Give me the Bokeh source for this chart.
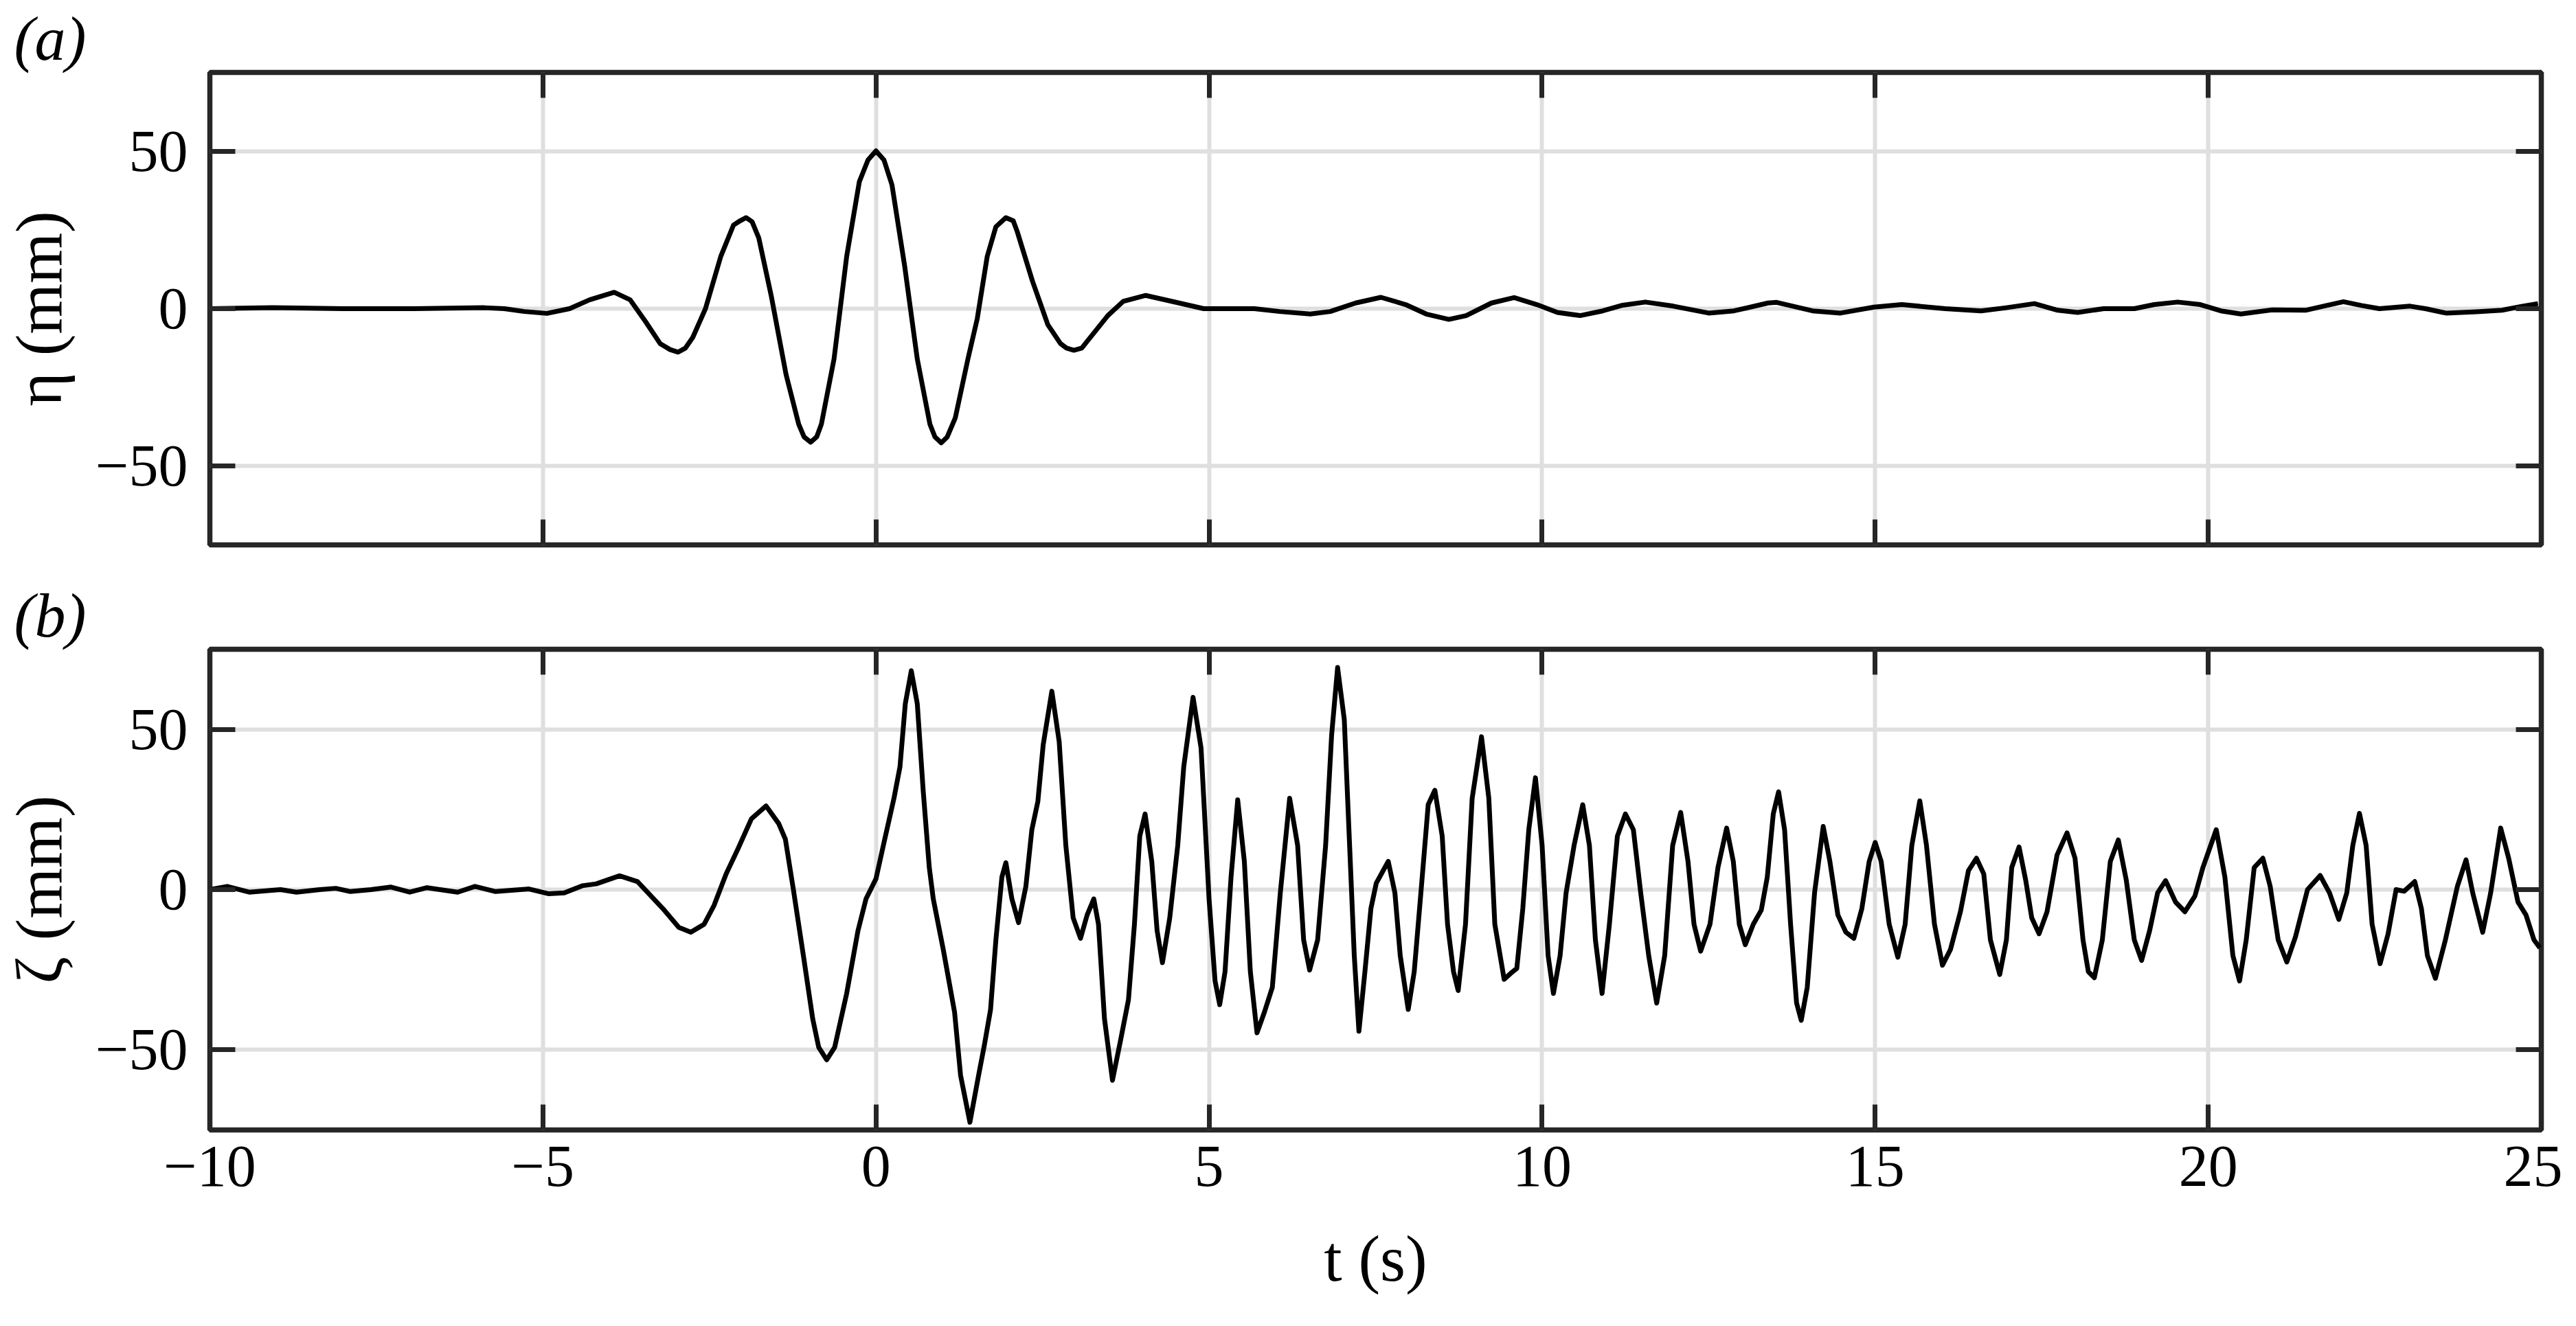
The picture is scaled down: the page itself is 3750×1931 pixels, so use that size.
from bokeh.plotting import figure
from bokeh.models import LinearAxis, FixedTicker, Range1d, Grid
from bokeh.layouts import column
from bokeh.embed import file_html
from bokeh.resources import INLINE

# ---------------- data ----------------
x_ticks = [-10, -5, 0, 5, 10, 15, 20, 25]
y_ticks = [-50, 0, 50]
x_tick_labels = {-10: "\u221210", -5: "\u22125", 0: "0", 5: "5", 10: "10", 15: "15", 20: "20", 25: "25"}
y_tick_labels = {-50: "\u221250", 0: "0", 50: "50"}

# panel (a): incident wave elevation eta (mm) vs t (s)
t_eta = [-10.0, -9.06, -8.0, -6.94, -5.88, -5.58, -5.28, -4.94, -4.60, -4.30, -3.93, -3.69,
         -3.46, -3.24, -3.09, -2.97, -2.86, -2.75, -2.56, -2.33, -2.14, -2.04, -1.95, -1.86,
         -1.76, -1.57, -1.35, -1.16, -1.08, -0.98, -0.89, -0.82, -0.63, -0.44, -0.25, -0.12,
         0.0, 0.12, 0.24, 0.43, 0.62, 0.81, 0.885, 0.98, 1.07, 1.19, 1.38, 1.52, 1.67, 1.80,
         1.95, 2.06, 2.12, 2.35, 2.58, 2.77, 2.86, 2.97, 3.09, 3.18, 3.48, 3.71, 4.05, 4.55,
         4.92, 5.68, 6.06, 6.52, 6.82, 7.20, 7.58, 7.95, 8.26, 8.60, 8.86, 9.24, 9.58, 9.92,
         10.23, 10.57, 10.91, 11.21, 11.55, 11.97, 12.50, 12.88, 13.39, 13.52, 14.06, 14.48,
         14.98, 15.40, 16.05, 16.59, 16.97, 17.39, 17.74, 18.04, 18.43, 18.89, 19.19, 19.54,
         19.88, 20.19, 20.49, 20.96, 21.46, 21.73, 22.03, 22.30, 22.57, 23.03, 23.26, 23.57,
         24.03, 24.41, 24.72, 24.95]
eta = [0.0, 0.3, 0.0, 0.0, 0.3, 0.0, -0.9, -1.5, 0.0, 2.8, 5.2, 2.8,
       -4.1, -11.1, -13.0, -13.8, -12.5, -9.1, 0.0, 16.6, 26.5, 27.9, 28.9, 27.6,
       22.5, 3.8, -20.9, -36.7, -40.7, -42.4, -40.7, -36.7, -16.0, 16.6, 40.3, 47.2,
       50.1, 47.2, 39.3, 13.6, -16.0, -36.7, -40.7, -42.6, -40.7, -34.7, -16.0, -3.2, 16.6, 26.0,
       28.9, 27.9, 24.5, 8.7, -5.1, -11.1, -12.5, -13.2, -12.5, -10.1, -2.2, 2.3, 4.2, 1.8,
       0.0, 0.0, -0.9, -1.7, -0.9, 1.8, 3.6, 1.3, -1.7, -3.4, -2.2, 1.8, 3.5, 1.3,
       -1.2, -2.2, -0.7, 1.1, 2.1, 0.8, -1.4, -0.7, 1.8, 2.0, -0.7, -1.4,
       0.5, 1.3, 0.0, -0.7, 0.3, 1.6, -0.5, -1.2, 0.0, 0.0, 1.3, 2.1,
       1.3, -0.7, -1.7, -0.4, -0.5, 0.8, 2.2, 1.0, 0.0, 0.8, 0.0, -1.4,
       -1.0, -0.5, 0.8, 1.6]

# panel (b): zeta (mm) vs t (s)
t_zeta = [-10.0, -9.74, -9.41, -8.94, -8.70, -8.35, -8.11, -7.89, -7.58, -7.28, -7.00, -6.74,
          -6.28, -6.02, -5.71, -5.21, -4.91, -4.68, -4.41, -4.20, -3.85, -3.58, -3.20, -2.96,
          -2.78, -2.58, -2.43, -2.25, -2.07, -1.87, -1.65, -1.46, -1.36, -1.24, -1.09, -0.95,
          -0.86, -0.74, -0.62, -0.44, -0.27, -0.15, 0.0, 0.12, 0.27, 0.36, 0.44, 0.53,
          0.62, 0.71, 0.80, 0.86, 1.01, 1.18, 1.27, 1.41, 1.54, 1.63, 1.72, 1.80,
          1.89, 1.95, 2.04, 2.14, 2.25, 2.34, 2.43, 2.51, 2.64, 2.75, 2.85, 2.96,
          3.07, 3.17, 3.27, 3.34, 3.43, 3.55, 3.67, 3.79, 3.88, 3.96, 4.04, 4.14,
          4.22, 4.30, 4.41, 4.53, 4.62, 4.76, 4.88, 5.00, 5.09, 5.16, 5.24, 5.33,
          5.43, 5.53, 5.62, 5.72, 5.83, 5.95, 6.07, 6.21, 6.33, 6.42, 6.51, 6.63,
          6.75, 6.84, 6.93, 7.03, 7.10, 7.18, 7.25, 7.34, 7.43, 7.51, 7.60, 7.69,
          7.79, 7.87, 7.99, 8.08, 8.20, 8.29, 8.39, 8.50, 8.58, 8.67, 8.74, 8.85,
          8.95, 9.09, 9.20, 9.29, 9.43, 9.53, 9.62, 9.71, 9.80, 9.90, 10.00, 10.09,
          10.17, 10.27, 10.36, 10.48, 10.61, 10.71, 10.80, 10.90, 11.01, 11.13, 11.25, 11.37,
          11.48, 11.60, 11.72, 11.84, 11.96, 12.08, 12.19, 12.28, 12.38, 12.52, 12.64, 12.77,
          12.87, 12.96, 13.05, 13.17, 13.29, 13.38, 13.47, 13.55, 13.64, 13.73, 13.82, 13.89,
          13.98, 14.09, 14.22, 14.32, 14.44, 14.56, 14.68, 14.80, 14.91, 15.00, 15.09, 15.21,
          15.34, 15.45, 15.55, 15.67, 15.77, 15.89, 16.01, 16.13, 16.28, 16.40, 16.52, 16.63,
          16.73, 16.87, 16.97, 17.05, 17.16, 17.26, 17.35, 17.46, 17.58, 17.73, 17.88, 18.00,
          18.12, 18.20, 18.29, 18.41, 18.53, 18.65, 18.77, 18.89, 19.00, 19.12, 19.24, 19.36,
          19.51, 19.65, 19.80, 19.92, 20.12, 20.25, 20.37, 20.47, 20.57, 20.69, 20.82, 20.93,
          21.05, 21.18, 21.31, 21.49, 21.68, 21.82, 21.96, 22.08, 22.17, 22.27, 22.37, 22.46,
          22.58, 22.70, 22.82, 22.94, 23.10, 23.20, 23.29, 23.41, 23.56, 23.74, 23.87, 23.97,
          24.12, 24.24, 24.39, 24.51, 24.65, 24.77, 24.89, 24.98]
zeta = [0.0, 1.0, -0.8, 0.0, -0.8, 0.0, 0.4, -0.6, 0.0, 0.8, -0.8, 0.6,
        -0.8, 1.0, -0.6, 0.2, -1.3, -1.0, 1.2, 1.8, 4.3, 2.5, -5.9, -11.8,
        -13.3, -10.8, -4.9, 4.9, 12.8, 22.1, 26.1, 20.6, 15.7, 0.0, -20.6, -40.3,
        -49.2, -53.1, -49.2, -32.4, -12.8, -2.9, 3.4, 14.7, 28.5, 38.3, 58.0, 68.3,
        58.0, 30.5, 6.9, -2.9, -18.7, -38.3, -58.0, -72.6, -58.0, -48.2, -37.4, -15.7,
        3.9, 8.4, -2.9, -10.3, 1.0, 18.7, 27.5, 45.2, 61.9, 46.2, 13.8, -8.8,
        -15.2, -7.9, -2.9, -10.8, -40.3, -59.5, -47.2, -34.4, -10.8, 16.7, 23.6, 8.8,
        -12.8, -22.8, -8.8, 13.8, 38.3, 60.0, 44.2, -2.9, -28.5, -35.9, -25.6, 3.9,
        28.0, 8.8, -25.6, -44.7, -38.3, -30.5, -1.0, 28.5, 13.8, -15.7, -25.1, -15.7,
        13.8, 48.2, 69.3, 53.1, 18.7, -20.6, -44.2, -25.6, -5.9, 2.0, 5.4, 8.8,
        -1.0, -20.6, -37.4, -25.6, 3.9, 26.5, 31.0, 16.7, -10.8, -25.6, -31.5, -10.8,
        28.5, 47.7, 28.5, -10.8, -28.0, -26.1, -24.6, -5.9, 18.7, 34.9, 13.8, -20.6,
        -32.4, -20.6, -1.0, 13.8, 26.5, 13.8, -15.7, -32.4, -10.8, 16.7, 23.6, 18.7,
        -1.0, -20.6, -35.4, -20.6, 13.8, 24.1, 8.8, -10.8, -19.2, -10.8, 6.9, 19.2,
        8.8, -10.8, -17.2, -10.8, -6.4, 3.9, 23.6, 30.5, 18.7, -10.8, -35.4, -40.8,
        -30.5, -1.0, 19.7, 8.8, -7.9, -13.3, -15.2, -5.9, 8.8, 14.7, 8.8, -10.8,
        -21.1, -10.8, 13.8, 27.7, 13.8, -10.8, -23.6, -18.7, -6.9, 5.9, 9.8, 4.9,
        -15.7, -26.5, -15.7, 6.9, 13.3, 2.9, -8.8, -13.8, -6.9, 10.8, 17.7, 9.8,
        -15.7, -25.6, -27.5, -15.7, 8.8, 15.5, 2.9, -15.7, -22.1, -12.8, -1.0, 2.8,
        -3.9, -6.9, -2.0, 6.9, 18.7, 3.9, -20.6, -28.5, -15.7, 6.9, 9.8, 1.0,
        -15.7, -22.6, -14.7, 0.0, 4.4, -1.0, -9.3, -1.0, 13.8, 23.8, 13.8, -10.8,
        -23.1, -13.8, 0.0, -0.5, 2.5, -5.9, -20.6, -27.7, -15.7, 1.0, 9.3, -1.0,
        -13.3, -1.0, 19.2, 9.8, -3.9, -7.9, -15.7, -18.2]

panel_tags = ["(a)", "(b)"]
y_labels = ["\u03b7 (mm)", "\u03b6 (mm)"]
x_label = "t (s)"

# ---------------- styling ----------------
FONT = "Liberation Serif"
FRAME = "#262626"
GRID = "#dfdfdf"
TICK_FS = "86px"
LABEL_FS = "95px"
TAG_FS = "90px"
W = 3730
LEFT, FRAME_W = 303, 3396
RIGHT = W - LEFT - FRAME_W


def style_axis(ax, ticks, overrides, show_labels):
    ax.ticker = FixedTicker(ticks=ticks)
    ax.major_label_overrides = overrides
    ax.axis_line_color = None
    ax.major_tick_in = 37
    ax.major_tick_out = 0
    ax.major_tick_line_width = 7
    ax.major_tick_line_color = FRAME
    ax.minor_tick_line_color = None
    ax.major_label_text_font = FONT
    ax.axis_label_text_font = FONT
    ax.axis_label_text_font_size = LABEL_FS
    ax.axis_label_text_font_style = "normal"
    ax.axis_label_text_color = "black"
    if show_labels:
        ax.major_label_text_font_size = TICK_FS
        ax.major_label_text_color = "black"
    else:
        ax.major_label_text_font_size = "2px"
        ax.major_label_text_color = None
        ax.major_label_standoff = 0


def make_panel(t, y, tag, ylab, height, top, frame_h, show_x):
    p = figure(width=W, height=height, output_backend="svg", toolbar_location=None,
               x_range=Range1d(-10, 25), y_range=Range1d(-75, 75),
               x_axis_location=None, y_axis_location=None,
               min_border_left=LEFT, min_border_right=RIGHT,
               min_border_top=top, min_border_bottom=height - top - frame_h)
    p.background_fill_color = "white"
    p.border_fill_color = "white"
    p.outline_line_color = FRAME
    p.outline_line_width = 7.5
    p.grid.visible = False

    p.add_layout(Grid(dimension=0, ticker=FixedTicker(ticks=x_ticks),
                      grid_line_color=GRID, grid_line_width=6))
    p.add_layout(Grid(dimension=1, ticker=FixedTicker(ticks=y_ticks),
                      grid_line_color=GRID, grid_line_width=6))

    bottom = LinearAxis()
    top_ax = LinearAxis()
    left = LinearAxis()
    right = LinearAxis()
    style_axis(bottom, x_ticks, x_tick_labels, show_x)
    style_axis(top_ax, x_ticks, x_tick_labels, False)
    style_axis(left, y_ticks, y_tick_labels, True)
    style_axis(right, y_ticks, y_tick_labels, False)
    left.major_label_standoff = 32
    left.axis_label = ylab
    left.axis_label_standoff = 26
    if show_x:
        bottom.major_label_standoff = 24
        bottom.axis_label = x_label
        bottom.axis_label_standoff = 50
    p.add_layout(bottom, "below")
    p.add_layout(top_ax, "above")
    p.add_layout(left, "left")
    p.add_layout(right, "right")

    p.line(t, y, line_color="black", line_width=7, line_join="round")

    # panel tag drawn as the plot title, left of the frame
    p.title.text = tag
    p.title.align = "left"
    p.title.offset = -285
    p.title.text_font = FONT
    p.title.text_font_size = TAG_FS
    p.title.text_font_style = "italic"
    p.title.text_color = "black"
    p.title.standoff = 0
    p.title.vertical_align = "bottom"
    return p


pa = make_panel(t_eta, eta, panel_tags[0], y_labels[0], 833, 105, 688, False)
pb = make_panel(t_zeta, zeta, panel_tags[1], y_labels[1], 1075, 112, 700, True)

layout = column(pa, pb)
open("out.html", "w").write(file_html(layout, INLINE))
